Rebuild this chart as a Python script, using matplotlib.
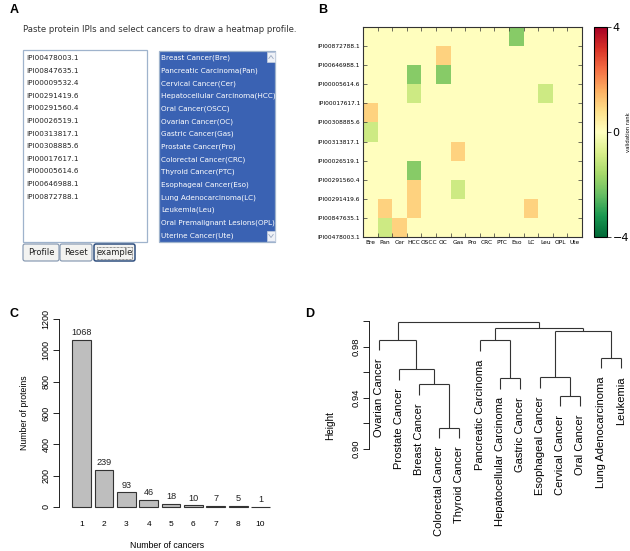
import matplotlib
matplotlib.use('Agg')
import matplotlib.pyplot as plt
import numpy as np
from matplotlib.patches import Rectangle, FancyBboxPatch

W, H = 630, 551

# ---------------- Panel A data ----------------
ipi_list = ["IPI00478003.1", "IPI00847635.1", "IPI00009532.4", "IPI00291419.6",
            "IPI00291560.4", "IPI00026519.1", "IPI00313817.1", "IPI00308885.6",
            "IPI00017617.1", "IPI00005614.6", "IPI00646988.1", "IPI00872788.1"]
cancer_options = ["Breast Cancer(Bre)", "Pancreatic Carcinoma(Pan)", "Cervical Cancer(Cer)",
                  "Hepatocellular Carcinoma(HCC)", "Oral Cancer(OSCC)", "Ovarian Cancer(OC)",
                  "Gastric Cancer(Gas)", "Prostate Cancer(Pro)", "Colorectal Cancer(CRC)",
                  "Thyroid Cancer(PTC)", "Esophageal Cancer(Eso)", "Lung Adenocarcinoma(LC)",
                  "Leukemia(Leu)", "Oral Premalignant Lesions(OPL)", "Uterine Cancer(Ute)"]
button_labels = ["Profile", "Reset", "example"]
instruction = "Paste protein IPIs and select cancers to draw a heatmap profile."

# ---------------- Panel B data ----------------
heat_cols = ["Bre", "Pan", "Cer", "HCC", "OSCC", "OC", "Gas", "Pro", "CRC", "PTC",
             "Eso", "LC", "Leu", "OPL", "Ute"]
heat_rows = ["IPI00478003.1", "IPI00847635.1", "IPI00291419.6", "IPI00291560.4",
             "IPI00026519.1", "IPI00313817.1", "IPI00308885.6", "IPI00017617.1",
             "IPI00005614.6", "IPI00646988.1", "IPI00872788.1"]
# rows listed bottom -> top
heat_values = [
    [0, -1, 1, 0, 0, 0, 0, 0, 0, 0, 0, 0, 0, 0, 0],
    [0, 1, 0, 1, 0, 0, 0, 0, 0, 0, 0, 1, 0, 0, 0],
    [0, 0, 0, 1, 0, 0, -1, 0, 0, 0, 0, 0, 0, 0, 0],
    [0, 0, 0, -2, 0, 0, 0, 0, 0, 0, 0, 0, 0, 0, 0],
    [0, 0, 0, 0, 0, 0, 1, 0, 0, 0, 0, 0, 0, 0, 0],
    [-1, 0, 0, 0, 0, 0, 0, 0, 0, 0, 0, 0, 0, 0, 0],
    [1, 0, 0, 0, 0, 0, 0, 0, 0, 0, 0, 0, 0, 0, 0],
    [0, 0, 0, -1, 0, 0, 0, 0, 0, 0, 0, 0, -1, 0, 0],
    [0, 0, 0, -2, 0, -2, 0, 0, 0, 0, 0, 0, 0, 0, 0],
    [0, 0, 0, 0, 0, 1, 0, 0, 0, 0, 0, 0, 0, 0, 0],
    [0, 0, 0, 0, 0, 0, 0, 0, 0, 0, -2, 0, 0, 0, 0],
]
cbar_ticks = [-4, 0, 4]

# ---------------- Panel C data ----------------
n_cancers = ["1", "2", "3", "4", "5", "6", "7", "8", "10"]
n_proteins = [1068, 239, 93, 46, 18, 10, 7, 5, 1]
c_yticks = [0, 200, 400, 600, 800, 1000, 1200]

# ---------------- Panel D data ----------------
leaf_labels = ["Ovarian Cancer", "Prostate Cancer", "Breast Cancer", "Colorectal Cancer",
               "Thyroid Cancer", "Pancreatic Carcinoma", "Hepatocellular Carcinoma",
               "Gastric Cancer", "Esophageal Cancer", "Cervical Cancer", "Oral Cancer",
               "Lung Adenocarcinoma", "Leukemia"]
# R hclust style merges: negative = leaf (1-based display order), positive = earlier merge
merge_a = [-4, -10, -3, -7, -9, -2, -12, -6, -1, 5, 8, 9]
merge_b = [-5, -11, 1, -8, 2, 3, -13, 4, 6, 7, 10, 11]
merge_h = [0.9168, 0.9417, 0.9505, 0.9551, 0.9559, 0.9624, 0.9715, 0.9849, 0.9854,
           0.9919, 0.9948, 0.9992]
d_yticks = [0.90, 0.92, 0.94, 0.96, 0.98, 1.00]
d_ylabels = ["0.90", "", "0.94", "", "0.98", ""]

FORM_FONT = ['Liberation Sans Narrow', 'DejaVu Sans']
R_FONT = ['Liberation Sans', 'DejaVu Sans']

fig = plt.figure(figsize=(W / 100, H / 100), dpi=100)


def px_axes(l, t, r, b, **kw):
    return fig.add_axes([l / W, 1 - b / H, (r - l) / W, (b - t) / H], **kw)


# ---------------- overlay for panel A + letters ----------------
ov = px_axes(0, 0, W, H)
ov.set_xlim(0, W)
ov.set_ylim(H, 0)
ov.axis('off')

for letter, (x, y) in zip("ABCD", [(10, 10), (318, 10), (10, 314), (305, 314)]):
    ov.text(x, y, letter, fontsize=9, fontweight='bold', family=R_FONT,
            ha='left', va='center')

ov.text(23, 30, instruction, fontsize=6.1, family=FORM_FONT, color='#333333',
        ha='left', va='center')

# left text area
ov.add_patch(Rectangle((23, 50), 124, 192, facecolor='white', edgecolor='#9fb3cc', lw=0.9))
for i, s in enumerate(ipi_list):
    ov.text(26, 58 + i * 12.6, s, fontsize=5.2, family=FORM_FONT, color='#222222',
            ha='left', va='center')

# right selection list
ov.add_patch(Rectangle((159, 51), 116, 191, facecolor='#3a62b3', edgecolor='#9fb3cc', lw=0.9))
clip_rect = Rectangle((159, 51), 107, 191, transform=ov.transData)
for i, s in enumerate(cancer_options):
    t = ov.text(161, 58 + i * 12.67, s, fontsize=5.2, family=FORM_FONT, color='white',
                ha='left', va='center')
    t.set_clip_path(clip_rect)
# scrollbar arrow buttons
for yb, up in [(52, True), (231, False)]:
    ov.add_patch(Rectangle((267, yb), 8, 10, facecolor='#eef1f7', edgecolor='#c5cfdf', lw=0.5))
    xs = [268.8, 271, 273.2]
    ys = [yb + 6.5, yb + 3.5, yb + 6.5] if up else [yb + 3.5, yb + 6.5, yb + 3.5]
    ov.plot(xs, ys, color='#9aa8c0', lw=0.6)

# buttons
for (x0, x1), lab in zip([(23, 59), (60, 92), (94, 135)], button_labels):
    focused = lab == "example"
    ov.add_patch(FancyBboxPatch((x0, 244), x1 - x0, 17, boxstyle='round,pad=0,rounding_size=2',
                                facecolor='#f3f3f1', edgecolor='#2f4f7f' if focused else '#7f93ad',
                                lw=1.1 if focused else 0.8))
    if focused:
        ov.add_patch(Rectangle((x0 + 3, 246.5), x1 - x0 - 6, 12, facecolor='none',
                               edgecolor='#333333', lw=0.5, ls=(0, (1, 1))))
    ov.text((x0 + x1) / 2, 252.5, lab, fontsize=6.0, family=FORM_FONT, color='#222222',
            ha='center', va='center')

# ---------------- Panel B: heatmap ----------------
axb = px_axes(363, 27, 582, 237)
vals = np.array(heat_values, dtype=float)
mesh = axb.pcolormesh(vals, cmap='RdYlGn_r', vmin=-4, vmax=4)
axb.set_xlim(0, len(heat_cols))
axb.set_ylim(0, len(heat_rows))
axb.set_xticks(np.arange(len(heat_cols)) + 0.5)
axb.set_xticklabels(heat_cols, fontsize=4.2)
axb.set_xticks(np.arange(len(heat_cols) + 1), minor=True)
axb.set_yticks(np.arange(len(heat_rows)))
axb.set_yticklabels(heat_rows, fontsize=4.2)
axb.tick_params(axis='x', which='major', length=0, pad=2)
axb.tick_params(axis='x', which='minor', length=3, direction='in', top=True, bottom=True,
                width=0.5, color='#333333')
axb.tick_params(axis='y', which='major', length=3, direction='in', left=True, right=True,
                width=0.5, pad=2, color='#333333')
for sp in axb.spines.values():
    sp.set_linewidth(0.8)
    sp.set_color('#333333')

cax = px_axes(594, 27, 607, 237)
cb = fig.colorbar(mesh, cax=cax, ticks=cbar_ticks)
cb.ax.set_yticklabels(['\u22124', '0', '4'])
cb.ax.tick_params(labelsize=8, length=3, width=0.5, pad=1)
cb.outline.set_linewidth(0.8)
cb.ax.text(628, 132, 'validation rank', transform=ov.transData, fontsize=3.8,
           rotation=90, ha='center', va='center')

# ---------------- Panel C: bar chart ----------------
axc = px_axes(59, 311.5, 277.8, 514.5)
xpos = 0.7 + 1.2 * np.arange(len(n_proteins))
axc.bar(xpos, n_proteins, width=1.0, color='#bebebe', edgecolor='#333333', linewidth=0.8)
for x, v in zip(xpos, n_proteins):
    axc.annotate(str(v), (x, v), xytext=(0, 5.3), textcoords='offset points', ha='center',
                 va='center', fontsize=6.6, family=R_FONT, color='#222222')
axc.set_xlim(-0.506, 11.224)
axc.set_ylim(-48, 1248)
axc.set_yticks(c_yticks)
axc.set_yticklabels([str(v) for v in c_yticks], rotation=90, va='center', fontsize=6.5,
                    family=R_FONT)
axc.set_xticks(xpos)
axc.set_xticklabels(n_cancers, fontsize=6, family=R_FONT)
axc.tick_params(axis='x', length=0, pad=5)
axc.tick_params(axis='y', length=4, width=0.6, pad=2)
for s in ['top', 'right', 'bottom']:
    axc.spines[s].set_visible(False)
axc.spines['left'].set_bounds(0, 1200)
axc.spines['left'].set_linewidth(0.6)
axc.patch.set_alpha(0)
ov.text(167, 546, 'Number of cancers', fontsize=6.3, family=R_FONT, ha='center', va='center')
ov.text(25, 413, 'Number of proteins', fontsize=6.3, family=R_FONT, ha='center',
        va='center', rotation=90)

# ---------------- Panel D: dendrogram ----------------
axd = px_axes(369, 317.2, 630.4, 455.4)
axd.set_xlim(0.52, 13.48)
axd.set_ylim(0.895, 1.003)
hang = 0.1 * (max(merge_h) - min(merge_h))
node_x, node_y = {}, {}
leaf_bottom = {}
for k, (a, b, h) in enumerate(zip(merge_a, merge_b, merge_h), start=1):
    xs = []
    for c in (a, b):
        if c < 0:
            cx = -c
            cy = h - hang
            leaf_bottom[-c] = cy
        else:
            cx, cy = node_x[c], node_y[c]
        axd.plot([cx, cx], [cy, h], color='#333333', lw=0.8, solid_capstyle='butt')
        xs.append(cx)
    axd.plot(xs, [h, h], color='#333333', lw=0.8, solid_capstyle='butt')
    node_x[k] = sum(xs) / 2
    node_y[k] = h
for i, lab in enumerate(leaf_labels, start=1):
    axd.annotate(lab, (i, leaf_bottom[i]), xytext=(0, -6), textcoords='offset points',
                 rotation=90, ha='center', va='top', fontsize=8.0, family=R_FONT,
                 annotation_clip=False)
axd.set_xticks([])
axd.set_yticks(d_yticks)
axd.set_yticklabels(d_ylabels, rotation=90, va='center', fontsize=6.8, family=R_FONT)
axd.tick_params(axis='y', length=4, width=0.6, pad=2)
for s in ['top', 'right', 'bottom']:
    axd.spines[s].set_visible(False)
axd.spines['left'].set_bounds(0.90, 1.00)
axd.spines['left'].set_linewidth(0.6)
axd.patch.set_alpha(0)
ov.text(330, 426, 'Height', fontsize=7.2, family=R_FONT, ha='center', va='center',
        rotation=90)

fig.savefig('out.png', dpi=100)
